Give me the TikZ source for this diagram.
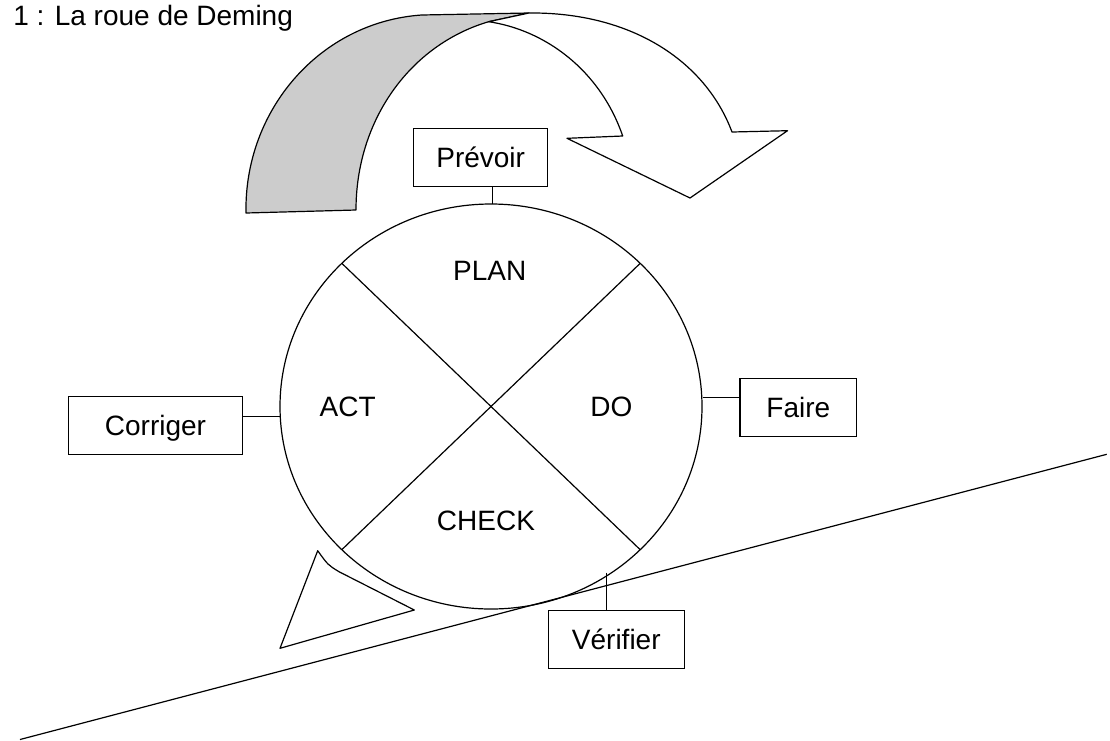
\documentclass[tikz,border=0pt]{standalone}
\usepackage{fontspec}
\setmainfont{Liberation Sans}
\usetikzlibrary{shapes.geometric}
\begin{document}
\begin{tikzpicture}[x=1pt,y=-1pt,line width=1.2pt,
  every node/.style={font=\fontsize{28}{32}\selectfont, inner sep=0pt},
  labelbox/.style={draw, rectangle, text height=20pt, text depth=0pt},
  wheellabel/.style={anchor=base},
  ribbonback/.style={draw, fill=black!20, line join=round},
  ribbonfront/.style={draw, fill=white, line join=round}]
\useasboundingbox (0,0) rectangle (1110,740);
% title
\node[anchor=base west] (title) at (12.7,25) {1 : La roue de Deming};
% ground line
\coordinate (g1) at (20,739.5);
\coordinate (g2) at (1106.7,454.3);
\draw (g1) -- (g2);
% curved arrow (back, grey)
\draw[ribbonback] (246,213) .. controls (244,110) and (320,22) .. (421.6,15)
  -- (529,13) -- (488.6,21.7) .. controls (410,45) and (356,120) .. (356,210) -- cycle;
% curved arrow (front, white)
\draw[ribbonfront] (529,13) .. controls (630,12) and (705,60) .. (732,132)
  -- (787.5,130.7) -- (690,198) -- (567,138.3) -- (622.7,136)
  .. controls (600,70) and (545,30) .. (488.6,21.7) -- cycle;
% small arrow head at bottom left
\draw[line join=round] (317.7,550.7) .. controls (328,565) .. (339,571.7)
  -- (414.3,610) -- (280,648.3) -- cycle;
% the wheel
\node[draw, ellipse, minimum width=422pt, minimum height=405pt] (wheel) at (491,406.5) {};
\coordinate (d1) at (341.8,263.3);
\coordinate (d2) at (640.2,549.7);
\coordinate (d3) at (640.2,263.3);
\coordinate (d4) at (341.8,549.7);
\draw (d1) -- (d2);
\draw (d3) -- (d4);
\node[wheellabel] (plan) at (489.7,280.7) {PLAN};
\node[wheellabel] (act) at (347.7,416.7) {ACT};
\node[wheellabel] (do) at (611.3,416.7) {DO};
\node[wheellabel] (check) at (486,530.7) {CHECK};
% label boxes
\node[labelbox, minimum width=134pt, minimum height=58.4pt] (prevoir) at (480.7,157.5) {Prévoir};
\node[labelbox, minimum width=116.7pt, minimum height=58.4pt] (faire) at (798.3,407.5) {Faire};
\node[labelbox, minimum width=174.4pt, minimum height=57.6pt] (corriger) at (155.5,425.5) {Corriger};
\node[labelbox, minimum width=136pt, minimum height=57.6pt] (verifier) at (616.3,639.5) {Vérifier};
% connectors
\coordinate (cp) at (492.3,204);
\coordinate (cf) at (702.7,397.3);
\coordinate (cc) at (280.3,416.7);
\coordinate (cv) at (606.7,572.7);
\draw (cp) -- (prevoir.south -| cp);
\draw (cf) -- (faire.west |- cf);
\draw (cc) -- (corriger.east |- cc);
\draw (cv) -- (verifier.north -| cv);
\end{tikzpicture}
\end{document}
